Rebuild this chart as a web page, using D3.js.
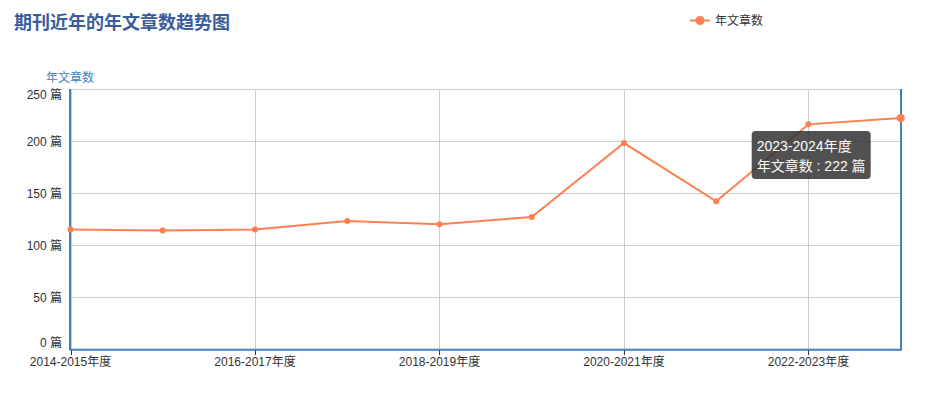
<!DOCTYPE html>
<html>
<head>
<meta charset="utf-8">
<script src="https://cdn.jsdelivr.net/npm/d3@7"></script>
<style>
  body { margin: 0; background: #fff; }
  svg { display: block; font-family: "Liberation Sans", "Noto Sans CJK SC", sans-serif; }
</style>
</head>
<body>
<svg id="chart" width="928" height="399"></svg>
<script>
// chart data
const categories = ['2014-2015年度', '2015-2016年度', '2016-2017年度', '2017-2018年度', '2018-2019年度',
    '2019-2020年度', '2020-2021年度', '2021-2022年度', '2022-2023年度', '2023-2024年度'];
const articleCounts = [115, 114, 115, 123, 120, 127, 198, 142, 216, 222];
const yTicks = [0, 50, 100, 150, 200, 250];
const seriesName = '年文章数';
const unit = '篇';
const titleText = '期刊近年的年文章数趋势图';

const width = 928, height = 399;
const margin = { top: 89, right: 27, bottom: 50, left: 70 };
const axisColor = '#3f80bd';
const lineColor = '#ff7f50';

const svg = d3.select('#chart');

const x = d3.scalePoint()
    .domain(categories)
    .range([margin.left + 0.5, width - margin.right - 0.3]);

const y = d3.scaleLinear()
    .domain([0, 250])
    .range([height - margin.bottom, margin.top]);

// grid lines
const grid = svg.append('g').attr('class', 'grid');
grid.selectAll('.hgrid')
    .data(yTicks)
    .join('line')
    .attr('x1', margin.left)
    .attr('x2', width - margin.right)
    .attr('y1', d => Math.round(y(d)) + 0.5)
    .attr('y2', d => Math.round(y(d)) + 0.5)
    .attr('stroke', '#ccc');

grid.selectAll('.vgrid')
    .data(categories.filter((c, i) => i % 2 === 0))
    .join('line')
    .attr('x1', d => Math.round(x(d)) + 0.5)
    .attr('x2', d => Math.round(x(d)) + 0.5)
    .attr('y1', margin.top)
    .attr('y2', y(0))
    .attr('stroke', '#ccc');

// axis lines (left, right, bottom)
const axes = svg.append('g').attr('class', 'axes');
axes.append('line')
    .attr('x1', margin.left).attr('x2', margin.left)
    .attr('y1', margin.top).attr('y2', y(0) + 1.5)
    .attr('stroke', axisColor).attr('stroke-width', 2);
axes.append('line')
    .attr('x1', width - margin.right).attr('x2', width - margin.right)
    .attr('y1', margin.top).attr('y2', y(0) + 1.5)
    .attr('stroke', axisColor).attr('stroke-width', 2);
axes.append('line')
    .attr('x1', margin.left).attr('x2', width - margin.right)
    .attr('y1', y(0) + 0.7).attr('y2', y(0) + 0.7)
    .attr('stroke', axisColor).attr('stroke-width', 2);

// x ticks and labels
const xLabels = svg.append('g').attr('class', 'x-labels');
categories.forEach((c, i) => {
    if (i % 2 !== 0) return;
    const px = Math.round(x(c)) + 0.5;
    xLabels.append('line')
        .attr('x1', px).attr('x2', px)
        .attr('y1', y(0) + 1.5).attr('y2', y(0) + 6)
        .attr('stroke', '#333');
    xLabels.append('text')
        .attr('x', x(c))
        .attr('y', 366)
        .attr('text-anchor', 'middle')
        .attr('font-size', 12)
        .attr('fill', '#333')
        .text(c);
});

// y labels (min label raised, max label lowered)
svg.append('g').attr('class', 'y-labels')
    .selectAll('text')
    .data(yTicks)
    .join('text')
    .attr('x', margin.left - 8)
    .attr('y', d => d === 0 ? y(d) - 2 : d === 250 ? y(d) + 10 : y(d) + 4.5)
    .attr('text-anchor', 'end')
    .attr('font-size', 12)
    .attr('fill', '#333')
    .text(d => d + ' ' + unit);

// y axis name
svg.append('text')
    .attr('x', margin.left)
    .attr('y', 82)
    .attr('text-anchor', 'middle')
    .attr('font-size', 12)
    .attr('fill', axisColor)
    .text(seriesName);

// series line
const line = d3.line()
    .x((d, i) => x(categories[i]))
    .y(d => y(d));

svg.append('path')
    .datum(articleCounts)
    .attr('fill', 'none')
    .attr('stroke', lineColor)
    .attr('stroke-width', 2)
    .attr('d', line);

svg.append('g').attr('class', 'points')
    .selectAll('circle')
    .data(articleCounts)
    .join('circle')
    .attr('cx', (d, i) => x(categories[i]))
    .attr('cy', d => y(d))
    .attr('r', (d, i) => i === articleCounts.length - 1 ? 4 : 3)
    .attr('fill', lineColor);

// title
svg.append('text')
    .attr('x', 14)
    .attr('y', 29)
    .attr('font-size', 18)
    .attr('font-weight', 'bold')
    .attr('fill', '#3a5c9c')
    .text(titleText);

// legend
const legend = svg.append('g').attr('class', 'legend');
legend.append('line')
    .attr('x1', 690).attr('x2', 710)
    .attr('y1', 20.5).attr('y2', 20.5)
    .attr('stroke', lineColor).attr('stroke-width', 2);
legend.append('circle')
    .attr('cx', 700).attr('cy', 20.5).attr('r', 4.5)
    .attr('fill', lineColor);
legend.append('text')
    .attr('x', 715)
    .attr('y', 25)
    .attr('font-size', 12)
    .attr('fill', '#333')
    .text(seriesName);

// tooltip for the last point
const lastIdx = articleCounts.length - 1;
const tipX = x(categories[lastIdx]) - 149;
const tipY = y(articleCounts[lastIdx]) + 13;
const tip = svg.append('g').attr('class', 'tooltip')
    .attr('transform', `translate(${tipX},${tipY})`);
tip.append('rect')
    .attr('width', 119)
    .attr('height', 48)
    .attr('rx', 4)
    .attr('fill', 'rgba(50,50,50,0.85)');
tip.append('text')
    .attr('x', 5).attr('y', 20)
    .attr('font-size', 14)
    .attr('fill', '#fff')
    .text(categories[lastIdx]);
tip.append('text')
    .attr('x', 5).attr('y', 40)
    .attr('font-size', 14)
    .attr('fill', '#fff')
    .text(`${seriesName} : ${articleCounts[lastIdx]} ${unit}`);
</script>
</body>
</html>
